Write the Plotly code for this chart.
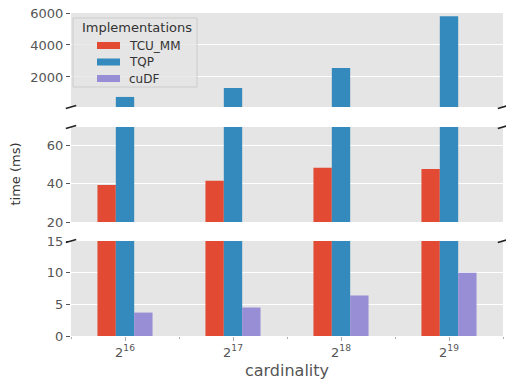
import plotly.graph_objects as go
from plotly.subplots import make_subplots

categories = ["2<sup>16</sup>", "2<sup>17</sup>", "2<sup>18</sup>", "2<sup>19</sup>"]
positions = [0, 1, 2, 3]
series_names = ["TCU_MM", "TQP", "cuDF"]
tcu_mm = [39.3, 41.4, 48.2, 47.6]
tqp = [750, 1310, 2560, 5800]
cudf = [3.7, 4.5, 6.4, 10.0]
colors = ["#E24A33", "#348ABD", "#988ED5"]

top_ticks = [2000, 4000, 6000]
mid_ticks = [20, 40, 60]
bot_ticks = [0, 5, 10, 15]

series = [tcu_mm, tqp, cudf]

fig = make_subplots(rows=3, cols=1, shared_xaxes=True)
for row in (1, 2, 3):
    for name, vals, col in zip(series_names, series, colors):
        fig.add_trace(go.Bar(x=positions, y=vals, name=name, marker=dict(color=col, line=dict(width=0)),
                             showlegend=False, legendgroup=name), row=row, col=1)

W, H = 506, 381
L, R, T, B = 71, 3, 13, 45
pw = W - L - R
ph = H - T - B

def dom(y_top, y_bot):
    return [(H - B - y_bot) / ph, (H - B - y_top) / ph]

def px_x(x):
    return (x - L) / pw

def px_y(y):
    return (H - B - y) / ph

axis_common = dict(showgrid=True, gridcolor="white", gridwidth=1, zeroline=False,
                   ticks="outside", ticklen=4, tickcolor="#555555", tickwidth=1,
                   tickfont=dict(family="DejaVu Sans", size=13, color="#555555"),
                   showline=False)

fig.update_layout(
    width=W, height=H,
    margin=dict(l=L, r=R, t=T, b=B, autoexpand=False),
    paper_bgcolor="white", plot_bgcolor="#E5E5E5",
    barmode="group", bargap=0.49, bargroupgap=0,
    font=dict(family="DejaVu Sans", color="#555555"),
    showlegend=False,
    yaxis=dict(domain=dom(13, 107), range=[120, 6000], tickvals=top_ticks, **axis_common),
    yaxis2=dict(domain=dom(127, 222), range=[20, 69.4], tickvals=mid_ticks, **axis_common),
    yaxis3=dict(domain=dom(241, 336), range=[0, 15], tickvals=bot_ticks, **axis_common),
)

for ax in ("xaxis", "xaxis2"):
    fig.layout[ax].update(range=[-0.5, 3.5], showticklabels=False, ticks="", showgrid=False, zeroline=False)

fig.layout.xaxis3.update(
    range=[-0.5, 3.5], tickvals=positions, ticktext=categories, showgrid=False, zeroline=False,
    ticks="outside", ticklen=4, tickcolor="#AAAAAA", tickwidth=1,
    tickfont=dict(family="DejaVu Sans", size=13, color="#555555"),
    minor=dict(tickvals=[-0.5, 0.5, 1.5, 2.5, 3.5], ticks="outside", ticklen=2, tickcolor="#AAAAAA", showgrid=False),
    title=dict(text="cardinality", font=dict(size=16, color="#555555"), standoff=6),
)

fig.add_annotation(text="time (ms)", xref="paper", yref="paper", x=px_x(15), y=0.5,
                   textangle=-90, showarrow=False, font=dict(size=13, color="#333333"),
                   xanchor="center", yanchor="middle")

# legend box (drawn manually to match the reference's wide swatches)
fig.add_shape(type="rect", xref="paper", yref="paper", x0=px_x(73), x1=px_x(197), y0=px_y(87), y1=px_y(18),
              fillcolor="rgba(229,229,229,0.8)", line=dict(color="#CCCCCC", width=1), layer="above")
fig.add_annotation(text="Implementations", xref="paper", yref="paper", x=px_x(136.5), y=px_y(28),
                   showarrow=False, font=dict(size=13, color="#333333"), xanchor="center", yanchor="middle")
for i, (name, col) in enumerate(zip(series_names, colors)):
    yc = 45.5 + 16.5 * i
    fig.add_shape(type="rect", xref="paper", yref="paper", x0=px_x(97), x1=px_x(120),
                  y0=px_y(yc + 3.5), y1=px_y(yc - 3.5), fillcolor=col, line=dict(width=0), layer="above")
    fig.add_annotation(text=name, xref="paper", yref="paper", x=px_x(127), y=px_y(yc),
                       showarrow=False, font=dict(size=12, color="#333333"), xanchor="left", yanchor="middle")

# broken-axis marks
dx, dy = 0.012, 0.016
for yref, ypos in (("y domain", 0), ("y2 domain", 1), ("y3 domain", 1)):
    xref = yref.replace("y", "x", 1)
    for xpos in (0, 1):
        fig.add_shape(type="line", xref=xref, yref=yref,
                      x0=xpos - dx, x1=xpos + dx, y0=ypos - dy, y1=ypos + dy,
                      line=dict(color="#222222", width=1.5))

fig.write_html("out.html", config={"displayModeBar": False},
               post_script="document.body.style.margin='0';document.body.style.padding='0';")
